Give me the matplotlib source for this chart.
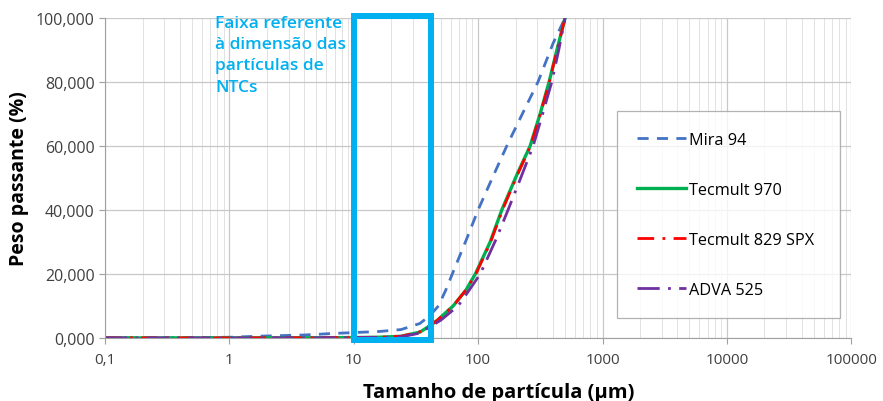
import matplotlib.pyplot as plt
from matplotlib.patches import Rectangle
from matplotlib.ticker import FuncFormatter, FixedLocator, LogLocator, MultipleLocator, NullFormatter

plt.rcParams['font.family'] = ['Open Sans', 'DejaVu Sans']

# particle size (um) and cumulative passing (%) for each product
mira_x = [0.1, 0.5, 1, 2, 4, 7, 16, 24, 34, 41, 48, 55, 62, 80, 100, 125, 170, 230, 303, 400, 500]
mira_y = [0, 0.1, 0.2, 0.6, 0.9, 1.4, 2.0, 2.6, 4.5, 7, 10, 15, 20, 30.5, 40, 48.5, 60, 70.5, 80, 92, 100]

t970_x = [0.1, 1, 5, 10, 16, 24, 34, 41, 47, 63, 80, 95, 125, 155, 205, 262, 315, 372, 430, 500]
t970_y = [0, 0, 0.05, 0.1, 0.2, 0.5, 1.8, 3.8, 5.5, 10, 15, 20, 30, 40, 51, 60, 70, 80, 90, 100]

t829_x = [0.1, 1, 5, 10, 16, 24, 34, 41, 47, 63, 80, 96, 126, 157, 207, 264, 317, 374, 432, 500]
t829_y = [0, 0, 0.05, 0.1, 0.2, 0.5, 1.9, 3.9, 5.5, 10, 15, 20, 30, 40, 51, 60, 70, 80, 90, 100]

adva_x = [0.1, 1, 10, 24, 34, 41, 50, 69, 85, 104, 140, 174, 220, 277, 330, 391, 445, 500]
adva_y = [0, 0, 0.05, 0.3, 1.5, 3.5, 5.5, 10, 15, 20, 31, 40, 50, 60, 70, 80, 90, 100]

x_ticks = [0.1, 1, 10, 100, 1000, 10000, 100000]
x_ticklabels = ['0,1', '1', '10', '100', '1000', '10000', '100000']

fig = plt.figure(figsize=(8.83, 4.02), dpi=100)
ax = fig.add_axes([0.119, 0.157, 0.845, 0.796])

ax.plot(mira_x, mira_y, color='#4472C4', lw=2, ls=(0, (4, 3)), label='Mira 94')
ax.plot(t970_x, t970_y, color='#00B050', lw=2.4, ls='-', label='Tecmult 970')
ax.plot(t829_x, t829_y, color='#FF0000', lw=2, ls=(0, (6, 3, 1, 3)), label='Tecmult 829 SPX')
ax.plot(adva_x, adva_y, color='#7030A0', lw=2, ls=(0, (8, 3, 1, 3)), label='ADVA 525')

# NTC size range box
ax.add_patch(Rectangle((10, -0.6), 42 - 10, 101.1, fill=False, edgecolor='#00B0F0',
                       lw=4.3, clip_on=False, zorder=5))
ax.text(0.77, 101, 'Faixa referente\nà dimensão das\npartículas de\nNTCs',
        color='#00B0F0', fontsize=12.5, fontweight='semibold', va='top', ha='left', linespacing=1.45)

ax.set_xscale('log')
ax.set_xlim(0.1, 100000)
ax.set_ylim(0, 100)
ax.xaxis.set_major_locator(FixedLocator(x_ticks))
ax.set_xticklabels(x_ticklabels)
ax.xaxis.set_minor_locator(LogLocator(base=10, subs=range(2, 10), numticks=20))
ax.xaxis.set_minor_formatter(NullFormatter())
ax.yaxis.set_major_locator(MultipleLocator(20))
ax.yaxis.set_major_formatter(FuncFormatter(lambda v, p: '{:.3f}'.format(v).replace('.', ',')))

ax.grid(True, which='major', color='#c8c8c8', lw=0.9)
ax.grid(True, which='minor', color='#e2e2e2', lw=0.7)
for s in ax.spines.values():
    s.set_visible(False)
ax.spines['left'].set_visible(True)
ax.spines['bottom'].set_visible(True)
ax.spines['left'].set_color('#a0a0a0')
ax.spines['bottom'].set_color('#a0a0a0')
ax.tick_params(which='both', colors='#a0a0a0', labelcolor='#404040', labelsize=11.5, length=4)
ax.tick_params(axis='x', labelsize=11)
ax.tick_params(which='minor', length=0)
ax.tick_params(axis='x', pad=6)

ax.set_xlabel('Tamanho de partícula (µm)', fontsize=14.5, fontweight='bold', labelpad=11)
ax.xaxis.label.set_x(0.528)
ax.set_ylabel('Peso passante (%)', fontsize=14, fontweight='bold', labelpad=5)

leg = ax.legend(loc='center', bbox_to_anchor=(0.686, 0.069, 0.299, 0.631), mode='expand', fontsize=11.7,
                handlelength=3.0, labelspacing=2.1, frameon=True, fancybox=False,
                handletextpad=0.2, borderpad=1.25, borderaxespad=0)
leg.get_frame().set_edgecolor('#a0a0a0')
leg.get_frame().set_linewidth(0.9)

fig.savefig('out.png', dpi=100)
